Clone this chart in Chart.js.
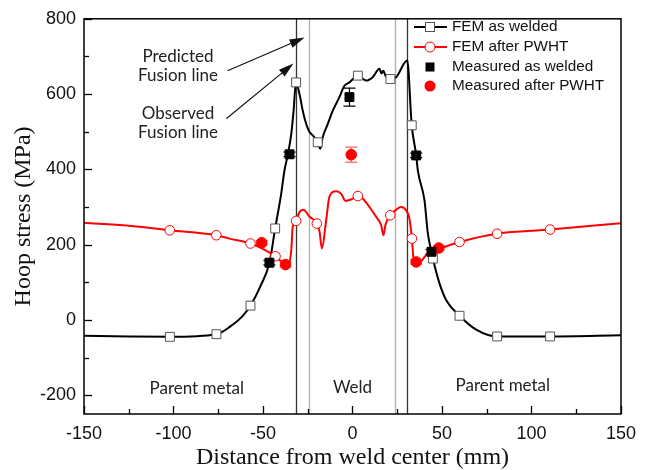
<!DOCTYPE html>
<html>
<head>
<meta charset="utf-8">
<script src="https://cdn.jsdelivr.net/npm/chart.js@4/dist/chart.umd.min.js"></script>
<style>
html, body { margin: 0; padding: 0; background: #fff; }
</style>
</head>
<body>
<canvas id="hoopChart" width="645" height="470"></canvas>
<script>
// axis ticks
const xTicks = [-150, -100, -50, 0, 50, 100, 150];
const yTicks = [-200, 0, 200, 400, 600, 800];

// FEM as welded (curve)
const awX = [-150, -125, -102, -76, -68.4, -61.4, -57, -51.4, -46.4, -43.2, -40, -38, -36.1, -34.2, -32.9, -31.6,
    -29.6, -27.8, -25.9, -24, -22.2, -19.4, -18, -16.6, -13.8, -11, -7.3, -4.5, -1.7, 3, 7.6, 11.3, 15.1, 16.2, 17.2, 18.5, 21.2, 24.4, 30.6,
    33.1, 35.6, 36.5, 40.2, 42.1, 44.1, 44.9, 48.6, 52.3, 59.8, 69.1, 80.8, 110.4, 150];
const awY = [-42, -44, -45, -38, -18, 10, 38, 90, 152, 243, 330, 397, 440, 494, 556, 631,
    600, 556, 521, 499, 490, 472, 455, 486, 521, 556, 592, 622, 631, 649, 636, 645, 667, 655, 662, 648, 640, 645, 689,
    517, 437, 397, 318, 230, 181, 163, 97, 53, 11, -26, -44, -44, -41];
// FEM as welded (markers)
const awMarkX = [-102, -76, -57, -43.2, -31.5, -19.4, 3, 21.2, 33.1, 44.9, 59.8, 80.8, 110.4];
const awMarkY = [-45, -38, 38, 243, 631, 472, 649, 640, 517, 163, 11, -44, -44];

// FEM after PWHT (curve)
const pwX = [-150, -125, -102.1, -76.1, -68.7, -57, -50.7, -43.2, -40.8, -37.4, -36.1, -34.2, -33.4, -31.5, -29.6, -27.4, -24, -19.9, -18.4, -17.1,
    -14.7, -12.9, -9.1, -6.3, -3.9, -0.7, 3, 5.8, 9.5, 13.2, 16, 17.3, 18.4, 21.1, 24.4, 27.2, 30, 31.8, 33.2, 34.1, 35.6, 37.4, 41.2, 48.2,
    59.8, 80.8, 110.4, 150];
const pwY = [258, 250, 238, 225, 216, 203, 190, 169, 159, 150, 146, 185, 247, 263, 287, 293, 274, 256, 234, 190,
    265, 327, 342, 335, 316, 320, 329, 322, 300, 274, 252, 225, 252, 278, 293, 300, 291, 269, 216, 163, 155, 154, 172, 188,
    207, 229, 240, 257];
// FEM after PWHT (markers)
const pwMarkX = [-102.1, -76.1, -57, -43, -31.5, -19.9, 3, 21.1, 33.2, 59.8, 80.8, 110.4];
const pwMarkY = [238, 225, 203, 169, 263, 256, 329, 278, 216, 207, 229, 240];

// measurements
const measAwX = [-46.4, -35.2, -1.7, 35.6, 44.1];
const measAwY = [152, 440, 592, 437, 181];
const measAwErr = [6, 6, 24, 6, 6];
const measPwX = [-50.7, -37.4, -0.7, 35.6, 48.2];
const measPwY = [205, 147, 439, 154, 191];
const measPwErr = [6, 6, 20, 6, 6];

// fusion line positions
const fusionDarkX = [-31.8, 30.5];
const fusionLightX = [-24.4, 23.7];

function pts(xs, ys) {
    return xs.map((x, i) => ({ x: x, y: ys[i] }));
}

const frameAndExtras = {
    id: 'frameAndExtras',
    beforeDatasetsDraw(chart) {
        const ctx = chart.ctx;
        const a = chart.chartArea;
        const xs = chart.scales.x;
        const ys = chart.scales.y;
        ctx.save();
        ctx.lineWidth = 1.3;
        ctx.strokeStyle = '#b0b0b0';
        fusionLightX.forEach(v => {
            const px = Math.round(xs.getPixelForValue(v)) + 0.5;
            ctx.beginPath(); ctx.moveTo(px, a.top); ctx.lineTo(px, a.bottom); ctx.stroke();
        });
        ctx.strokeStyle = '#333';
        fusionDarkX.forEach(v => {
            const px = Math.round(xs.getPixelForValue(v)) + 0.5;
            ctx.beginPath(); ctx.moveTo(px, a.top); ctx.lineTo(px, a.bottom); ctx.stroke();
        });

        // error bars
        function bars(xArr, yArr, eArr, color) {
            ctx.strokeStyle = color;
            ctx.lineWidth = 1.2;
            xArr.forEach((x, i) => {
                const px = xs.getPixelForValue(x);
                const top = ys.getPixelForValue(yArr[i] + eArr[i]);
                const bot = ys.getPixelForValue(yArr[i] - eArr[i]);
                ctx.beginPath();
                ctx.moveTo(px, top); ctx.lineTo(px, bot);
                ctx.moveTo(px - 6, top); ctx.lineTo(px + 6, top);
                ctx.moveTo(px - 6, bot); ctx.lineTo(px + 6, bot);
                ctx.stroke();
            });
        }
        bars(measAwX, measAwY, measAwErr, '#000');
        bars(measPwX, measPwY, measPwErr, '#ff6060');
        ctx.restore();
    },
    afterDraw(chart) {
        const ctx = chart.ctx;
        const a = chart.chartArea;
        const xs = chart.scales.x;
        const ys = chart.scales.y;
        ctx.save();

        // inward ticks
        ctx.strokeStyle = '#000';
        ctx.lineWidth = 1.3;
        for (let v = -150; v <= 150; v += 25) {
            const px = Math.round(xs.getPixelForValue(v)) + 0.5;
            const len = v % 50 === 0 ? 8 : 5;
            ctx.beginPath(); ctx.moveTo(px, a.bottom); ctx.lineTo(px, a.bottom - len); ctx.stroke();
        }
        for (let v = -200; v <= 800; v += 100) {
            const py = Math.round(ys.getPixelForValue(v)) + 0.5;
            const len = v % 200 === 0 ? 8 : 5;
            ctx.beginPath(); ctx.moveTo(a.left, py); ctx.lineTo(a.left + len, py); ctx.stroke();
        }
        // frame
        ctx.lineWidth = 1.5;
        ctx.strokeRect(a.left, a.top, a.right - a.left, a.bottom - a.top);

        // annotations
        ctx.fillStyle = '#222';
        ctx.font = '17px Lato, "Open Sans", sans-serif';
        ctx.textAlign = 'center';
        ctx.textBaseline = 'middle';
        const tx = xs.getPixelForValue(-97.5);
        ctx.fillText('Predicted', tx, ys.getPixelForValue(699));
        ctx.fillText('Fusion line', tx, ys.getPixelForValue(649));
        ctx.fillText('Observed', tx, ys.getPixelForValue(548));
        ctx.fillText('Fusion line', tx, ys.getPixelForValue(498));
        ctx.fillText('Parent metal', xs.getPixelForValue(-87), ys.getPixelForValue(-183));
        ctx.fillText('Weld', xs.getPixelForValue(0), ys.getPixelForValue(-180));
        ctx.fillText('Parent metal', xs.getPixelForValue(84), ys.getPixelForValue(-175));

        function arrow(x0, y0, x1, y1) {
            const p0x = xs.getPixelForValue(x0), p0y = ys.getPixelForValue(y0);
            const p1x = xs.getPixelForValue(x1), p1y = ys.getPixelForValue(y1);
            const ang = Math.atan2(p1y - p0y, p1x - p0x);
            const hl = 15, hw = 4.5;
            const bx = p1x - hl * Math.cos(ang), by = p1y - hl * Math.sin(ang);
            ctx.strokeStyle = '#111';
            ctx.fillStyle = '#111';
            ctx.lineWidth = 1.2;
            ctx.beginPath(); ctx.moveTo(p0x, p0y); ctx.lineTo(bx, by); ctx.stroke();
            ctx.beginPath();
            ctx.moveTo(p1x, p1y);
            ctx.lineTo(bx + hw * Math.sin(ang), by - hw * Math.cos(ang));
            ctx.lineTo(bx - hw * Math.sin(ang), by + hw * Math.cos(ang));
            ctx.closePath(); ctx.fill();
        }
        arrow(-69.8, 662, -26.8, 750);
        arrow(-70.4, 535, -33, 681);

        // legend
        const lx0 = 414, lx1 = 447, mx = 430, tx0 = 452;
        const rows = [27, 47, 67, 86];
        ctx.textAlign = 'left';
        ctx.font = '15.3px "Liberation Sans", Arial, sans-serif';
        // FEM as welded
        ctx.strokeStyle = '#000'; ctx.lineWidth = 2;
        ctx.beginPath(); ctx.moveTo(lx0, rows[0]); ctx.lineTo(lx1, rows[0]); ctx.stroke();
        ctx.fillStyle = '#fff'; ctx.fillRect(mx - 4.5, rows[0] - 4.5, 9, 9);
        ctx.strokeStyle = '#555'; ctx.lineWidth = 1; ctx.strokeRect(mx - 4.5, rows[0] - 4.5, 9, 9);
        // FEM after PWHT
        ctx.strokeStyle = '#f00'; ctx.lineWidth = 2;
        ctx.beginPath(); ctx.moveTo(lx0, rows[1]); ctx.lineTo(lx1, rows[1]); ctx.stroke();
        ctx.beginPath(); ctx.arc(mx, rows[1], 5, 0, Math.PI * 2);
        ctx.fillStyle = '#fff'; ctx.fill(); ctx.lineWidth = 1; ctx.stroke();
        // measured
        ctx.fillStyle = '#000'; ctx.fillRect(mx - 4.5, rows[2] - 4.5, 9, 9);
        ctx.fillStyle = '#f00';
        ctx.beginPath(); ctx.arc(mx, rows[3], 5.5, 0, Math.PI * 2); ctx.fill();

        ctx.fillStyle = '#111';
        ctx.fillText('FEM as welded', tx0, rows[0]);
        ctx.fillText('FEM after PWHT', tx0, rows[1]);
        ctx.fillText('Measured as welded', tx0, rows[2]);
        ctx.fillText('Measured after PWHT', tx0, rows[3]);
        ctx.restore();
    }
};

const tickFont = { family: '"Liberation Sans", Arial, sans-serif', size: 18 };
const titleFont = { family: '"Liberation Serif", "Times New Roman", serif', size: 24, lineHeight: 1 };

new Chart(document.getElementById('hoopChart').getContext('2d'), {
    type: 'scatter',
    data: {
        datasets: [
            { label: 'Measured as welded', data: pts(measAwX, measAwY), pointStyle: 'rect', pointRadius: 6.3,
              backgroundColor: '#000', borderColor: '#000', borderWidth: 1 },
            { label: 'Measured after PWHT', data: pts(measPwX, measPwY), pointStyle: 'circle', pointRadius: 5.3,
              backgroundColor: '#f00', borderColor: '#f00', borderWidth: 1 },
            { label: 'FEM as welded markers', data: pts(awMarkX, awMarkY), pointStyle: 'rect', pointRadius: 6.3,
              backgroundColor: '#fff', borderColor: '#555', borderWidth: 1 },
            { label: 'FEM after PWHT markers', data: pts(pwMarkX, pwMarkY), pointStyle: 'circle', pointRadius: 4.8,
              backgroundColor: '#fff', borderColor: '#f00', borderWidth: 1 },
            { label: 'FEM after PWHT', data: pts(pwX, pwY), showLine: true, borderColor: '#f00', borderWidth: 2,
              pointRadius: 0, cubicInterpolationMode: 'monotone' },
            { label: 'FEM as welded', data: pts(awX, awY), showLine: true, borderColor: '#000', borderWidth: 2,
              pointRadius: 0, cubicInterpolationMode: 'monotone' }
        ]
    },
    options: {
        responsive: false,
        animation: false,
        layout: { padding: { left: 0, right: 24, top: 18, bottom: 0 } },
        plugins: { legend: { display: false }, tooltip: { enabled: false } },
        scales: {
            x: {
                type: 'linear', min: -150, max: 150,
                afterBuildTicks: s => { s.ticks = xTicks.map(v => ({ value: v })); },
                afterFit: s => { s.height = 56; },
                grid: { display: false, drawTicks: false },
                border: { display: false },
                ticks: { padding: 9, color: '#111', font: tickFont, maxRotation: 0 },
                title: { display: true, text: 'Distance from weld center (mm)', color: '#111', font: titleFont, padding: 0 }
            },
            y: {
                type: 'linear', min: -250, max: 800,
                afterBuildTicks: s => { s.ticks = yTicks.map(v => ({ value: v })); },
                afterFit: s => { s.width = 84; },
                grid: { display: false, drawTicks: false },
                border: { display: false },
                ticks: { padding: 8, color: '#111', font: tickFont },
                title: { display: true, text: 'Hoop stress (MPa)', color: '#111', font: titleFont, padding: { top: 12, bottom: 0 } }
            }
        }
    },
    plugins: [frameAndExtras]
});
</script>
</body>
</html>
